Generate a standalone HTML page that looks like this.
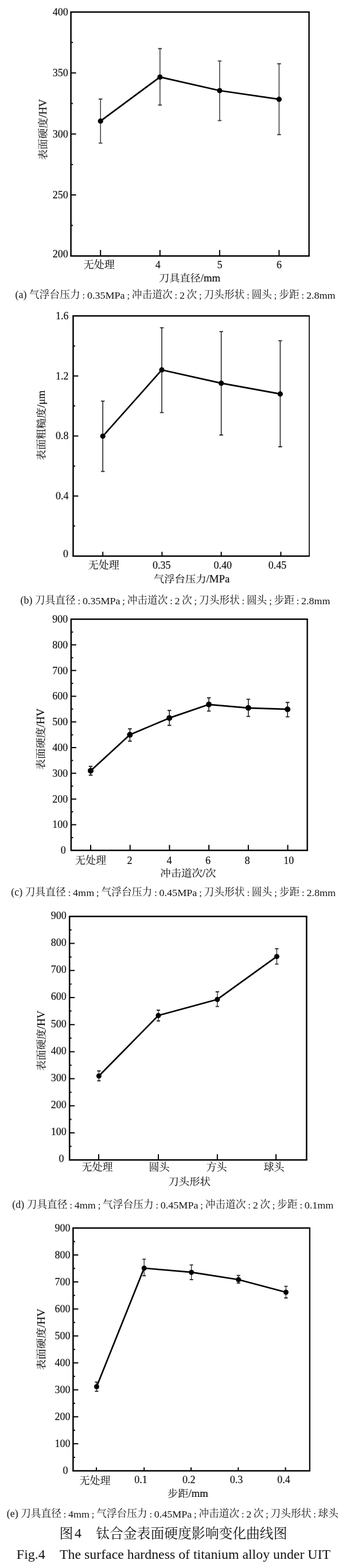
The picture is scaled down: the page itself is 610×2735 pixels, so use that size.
<!DOCTYPE html>
<html><head><meta charset="utf-8"><title>Fig.4</title>
<style>
html,body{margin:0;padding:0;background:#fff;}
body{width:610px;height:2735px;overflow:hidden;}
svg{display:block;}
text{font-family:"Liberation Serif", "Noto Serif CJK SC", serif;fill:#111;stroke:#111;stroke-width:0.1px;}
.l{font-family:"Liberation Serif",serif;stroke-width:0.2px;}
.cap{stroke-width:0px;}
</style></head>
<body>
<svg width="610" height="2735" viewBox="0 0 610 2735">
<rect width="610" height="2735" fill="#fff"/>
<g id="chart-a">
<path d="M123.6 447.8V19.7M122.3 20.9H539.8M122.3 446.5H539.8" fill="none" stroke="#000" stroke-width="2.5"/>
<path d="M538.6 20.9V446.5" fill="none" stroke="#000" stroke-width="2.4"/>
<path d="M123.6 393.3h3.5 M123.6 340.1h9 M123.6 286.9h3.5 M123.6 233.7h9 M123.6 180.5h3.5 M123.6 127.3h9 M123.6 74.1h3.5 M175.2 446.5v-10.5 M278.8 446.5v-10.5 M382.8 446.5v-10.5 M486.4 446.5v-10.5" stroke="#000" stroke-width="2" fill="none"/>
<text class="l" x="118.8" y="449.44" text-anchor="end" font-size="18">200</text>
<text class="l" x="118.8" y="346.04" text-anchor="end" font-size="18">250</text>
<text class="l" x="118.8" y="239.64" text-anchor="end" font-size="18">300</text>
<text class="l" x="118.8" y="133.24" text-anchor="end" font-size="18">350</text>
<text class="l" x="118.8" y="26.84" text-anchor="end" font-size="18">400</text>
<text x="172.7" y="468.3" text-anchor="middle" font-size="18">无处理</text>
<text class="l" x="275.2" y="468.3" text-anchor="middle" font-size="18">4</text>
<text class="l" x="382.9" y="468.3" text-anchor="middle" font-size="18">5</text>
<text class="l" x="486.6" y="468.3" text-anchor="middle" font-size="18">6</text>
<text x="277" y="491.08" font-size="18" textLength="107" lengthAdjust="spacingAndGlyphs"><tspan font-size="17.5">刀具直径</tspan><tspan class="l" font-size="18">/mm</tspan></text>
<text transform="translate(80.58 279.1) rotate(-90)" x="0" y="0" font-size="18" textLength="106.4" lengthAdjust="spacingAndGlyphs"><tspan font-size="17.5">表面硬度</tspan><tspan class="l" font-size="18">/HV</tspan></text>
<text class="l cap" x="26.6" y="520" font-size="18.5" textLength="20" lengthAdjust="spacingAndGlyphs">(a)</text>
<text class="cap" x="51.11" y="520.41" font-size="17.8" textLength="88.64" lengthAdjust="spacingAndGlyphs">气浮台压力</text>
<text class="l cap" x="145.87" y="521" font-size="16.2" text-anchor="middle">:</text>
<text class="l cap" x="151.99" y="521" font-size="16.2" textLength="65.58" lengthAdjust="spacingAndGlyphs">0.35MPa</text>
<text class="l cap" x="223.7" y="521" font-size="16.2" text-anchor="middle">;</text>
<text class="cap" x="229.82" y="520.41" font-size="17.8" textLength="70.91" lengthAdjust="spacingAndGlyphs">冲击道次</text>
<text class="l cap" x="306.85" y="521" font-size="16.2" text-anchor="middle">:</text>
<text class="l cap" x="312.97" y="521" font-size="16.2" textLength="9.01" lengthAdjust="spacingAndGlyphs">2</text>
<text class="cap" x="325.41" y="520.41" font-size="17.8" textLength="17.73" lengthAdjust="spacingAndGlyphs">次</text>
<text class="l cap" x="349.26" y="521" font-size="16.2" text-anchor="middle">;</text>
<text class="cap" x="355.38" y="520.41" font-size="17.8" textLength="70.91" lengthAdjust="spacingAndGlyphs">刀头形状</text>
<text class="l cap" x="432.42" y="521" font-size="16.2" text-anchor="middle">:</text>
<text class="cap" x="438.54" y="520.41" font-size="17.8" textLength="35.46" lengthAdjust="spacingAndGlyphs">圆头</text>
<text class="l cap" x="480.12" y="521" font-size="16.2" text-anchor="middle">;</text>
<text class="cap" x="486.24" y="520.41" font-size="17.8" textLength="35.46" lengthAdjust="spacingAndGlyphs">步距</text>
<text class="l cap" x="527.82" y="521" font-size="16.2" text-anchor="middle">:</text>
<text class="l cap" x="533.94" y="521" font-size="16.2" textLength="50.56" lengthAdjust="spacingAndGlyphs">2.8mm</text>
<path d="M175.2 172.8V249.6 M278.8 84.8V183.2 M382.8 106.4V210.4 M486.4 111.2V234.8" stroke="#3a3a3a" stroke-width="1.5" fill="none"/>
<path d="M171.95 172.8h6.5M171.95 249.6h6.5 M275.55 84.8h6.5M275.55 183.2h6.5 M379.55 106.4h6.5M379.55 210.4h6.5 M483.15 111.2h6.5M483.15 234.8h6.5" stroke="#3a3a3a" stroke-width="1.9" fill="none"/>
<polyline points="175.2,211.2 278.8,134.4 382.8,158 486.4,173.2" fill="none" stroke="#000" stroke-width="2.7" stroke-linejoin="round"/>
<circle cx="175.2" cy="211.2" r="4.6" fill="#000"/>
<circle cx="278.8" cy="134.4" r="4.6" fill="#000"/>
<circle cx="382.8" cy="158" r="4.6" fill="#000"/>
<circle cx="486.4" cy="173.2" r="4.6" fill="#000"/>
</g>
<g id="chart-b">
<path d="M127.5 971.3V549.8M126.2 551H539.85M126.2 970H539.85" fill="none" stroke="#000" stroke-width="2.5"/>
<path d="M539 551V970" fill="none" stroke="#000" stroke-width="1.7"/>
<path d="M127.5 917.62h3.5 M127.5 865.25h9 M127.5 812.88h3.5 M127.5 760.5h9 M127.5 708.12h3.5 M127.5 655.75h9 M127.5 603.38h3.5 M179.2 970v-7.5 M282.4 970v-7.5 M385.6 970v-7.5 M489.4 970v-7.5" stroke="#000" stroke-width="2" fill="none"/>
<text class="l" x="119" y="971.94" text-anchor="end" font-size="18">0</text>
<text class="l" x="119.5" y="871.19" text-anchor="end" font-size="18">0.4</text>
<text class="l" x="119.5" y="766.44" text-anchor="end" font-size="18">0.8</text>
<text class="l" x="119.5" y="661.69" text-anchor="end" font-size="18">1.2</text>
<text class="l" x="119.5" y="556.94" text-anchor="end" font-size="18">1.6</text>
<text x="180.7" y="992.3" text-anchor="middle" font-size="18">无处理</text>
<text class="l" x="281.7" y="992.3" text-anchor="middle" font-size="18">0.35</text>
<text class="l" x="388.2" y="992.3" text-anchor="middle" font-size="18">0.40</text>
<text class="l" x="483.5" y="992.3" text-anchor="middle" font-size="18">0.45</text>
<text x="268" y="1015.78" font-size="18" textLength="132.3" lengthAdjust="spacingAndGlyphs"><tspan font-size="17.5">气浮台压力</tspan><tspan class="l" font-size="18">/MPa</tspan></text>
<text transform="translate(77.98 803) rotate(-90)" x="0" y="0" font-size="18" textLength="122" lengthAdjust="spacingAndGlyphs"><tspan font-size="17.5">表面粗糙度</tspan><tspan class="l" font-size="18">/μm</tspan></text>
<text class="l cap" x="35.5" y="1052.7" font-size="18.5" textLength="20.97" lengthAdjust="spacingAndGlyphs">(b)</text>
<text class="cap" x="60.97" y="1053.11" font-size="17.8" textLength="70.77" lengthAdjust="spacingAndGlyphs">刀具直径</text>
<text class="l cap" x="137.85" y="1053.7" font-size="16.2" text-anchor="middle">:</text>
<text class="l cap" x="143.96" y="1053.7" font-size="16.2" textLength="65.45" lengthAdjust="spacingAndGlyphs">0.35MPa</text>
<text class="l cap" x="215.52" y="1053.7" font-size="16.2" text-anchor="middle">;</text>
<text class="cap" x="221.63" y="1053.11" font-size="17.8" textLength="70.77" lengthAdjust="spacingAndGlyphs">冲击道次</text>
<text class="l cap" x="298.51" y="1053.7" font-size="16.2" text-anchor="middle">:</text>
<text class="l cap" x="304.62" y="1053.7" font-size="16.2" textLength="8.99" lengthAdjust="spacingAndGlyphs">2</text>
<text class="cap" x="317.03" y="1053.11" font-size="17.8" textLength="17.69" lengthAdjust="spacingAndGlyphs">次</text>
<text class="l cap" x="340.83" y="1053.7" font-size="16.2" text-anchor="middle">;</text>
<text class="cap" x="346.94" y="1053.11" font-size="17.8" textLength="70.77" lengthAdjust="spacingAndGlyphs">刀头形状</text>
<text class="l cap" x="423.82" y="1053.7" font-size="16.2" text-anchor="middle">:</text>
<text class="cap" x="429.93" y="1053.11" font-size="17.8" textLength="35.39" lengthAdjust="spacingAndGlyphs">圆头</text>
<text class="l cap" x="471.43" y="1053.7" font-size="16.2" text-anchor="middle">;</text>
<text class="cap" x="477.53" y="1053.11" font-size="17.8" textLength="35.39" lengthAdjust="spacingAndGlyphs">步距</text>
<text class="l cap" x="519.03" y="1053.7" font-size="16.2" text-anchor="middle">:</text>
<text class="l cap" x="525.14" y="1053.7" font-size="16.2" textLength="50.46" lengthAdjust="spacingAndGlyphs">2.8mm</text>
<path d="M179.2 699.6V822.4 M282 571.6V719.6 M385.6 578.4V758.8 M488.4 594.4V779.2" stroke="#262626" stroke-width="1.6" fill="none"/>
<path d="M175.95 699.6h6.5M175.95 822.4h6.5 M278.75 571.6h6.5M278.75 719.6h6.5 M382.35 578.4h6.5M382.35 758.8h6.5 M485.15 594.4h6.5M485.15 779.2h6.5" stroke="#262626" stroke-width="1.9" fill="none"/>
<polyline points="179.2,760.8 282,645.2 385.6,668.4 488.4,687.2" fill="none" stroke="#000" stroke-width="2.7" stroke-linejoin="round"/>
<circle cx="179.2" cy="760.8" r="4.6" fill="#000"/>
<circle cx="282" cy="645.2" r="4.6" fill="#000"/>
<circle cx="385.6" cy="668.4" r="4.6" fill="#000"/>
<circle cx="488.4" cy="687.2" r="4.6" fill="#000"/>
</g>
<g id="chart-c">
<path d="M123.9 1484.6V1078.8M122.6 1080H536.8M122.6 1483.3H536.8" fill="none" stroke="#000" stroke-width="2.5"/>
<path d="M535.6 1080V1483.3" fill="none" stroke="#000" stroke-width="2.4"/>
<path d="M123.9 1460.89h3.5 M123.9 1438.49h9 M123.9 1416.08h3.5 M123.9 1393.68h9 M123.9 1371.27h3.5 M123.9 1348.87h9 M123.9 1326.46h3.5 M123.9 1304.06h9 M123.9 1281.65h3.5 M123.9 1259.24h9 M123.9 1236.84h3.5 M123.9 1214.43h9 M123.9 1192.03h3.5 M123.9 1169.62h9 M123.9 1147.22h3.5 M123.9 1124.81h9 M123.9 1102.41h3.5 M158 1483.3v-9.5 M226.7 1483.3v-9.5 M295.4 1483.3v-9.5 M364.1 1483.3v-9.5 M432.8 1483.3v-9.5 M501.5 1483.3v-9.5" stroke="#000" stroke-width="2" fill="none"/>
<text class="l" x="114.8" y="1489.24" text-anchor="end" font-size="18">0</text>
<text class="l" x="118.3" y="1444.43" text-anchor="end" font-size="18">100</text>
<text class="l" x="118.3" y="1399.62" text-anchor="end" font-size="18">200</text>
<text class="l" x="118.3" y="1354.81" text-anchor="end" font-size="18">300</text>
<text class="l" x="118.3" y="1310" text-anchor="end" font-size="18">400</text>
<text class="l" x="118.3" y="1265.18" text-anchor="end" font-size="18">500</text>
<text class="l" x="118.3" y="1220.37" text-anchor="end" font-size="18">600</text>
<text class="l" x="118.3" y="1175.56" text-anchor="end" font-size="18">700</text>
<text class="l" x="118.3" y="1130.75" text-anchor="end" font-size="18">800</text>
<text class="l" x="118.3" y="1085.94" text-anchor="end" font-size="18">900</text>
<text x="157.9" y="1507.3" text-anchor="middle" font-size="18">无处理</text>
<text class="l" x="226.1" y="1507.3" text-anchor="middle" font-size="18">2</text>
<text class="l" x="295.1" y="1507.3" text-anchor="middle" font-size="18">4</text>
<text class="l" x="362.6" y="1507.3" text-anchor="middle" font-size="18">6</text>
<text class="l" x="430.9" y="1507.3" text-anchor="middle" font-size="18">8</text>
<text class="l" x="503.3" y="1507.3" text-anchor="middle" font-size="18">10</text>
<text x="279.3" y="1529.48" font-size="18" textLength="97.2" lengthAdjust="spacingAndGlyphs"><tspan font-size="17.5">冲击道次</tspan><tspan class="l" font-size="18">/</tspan><tspan font-size="17.5">次</tspan></text>
<text transform="translate(76.98 1342.6) rotate(-90)" x="0" y="0" font-size="18" textLength="106.8" lengthAdjust="spacingAndGlyphs"><tspan font-size="17.5">表面硬度</tspan><tspan class="l" font-size="18">/HV</tspan></text>
<text class="l cap" x="19.2" y="1561.5" font-size="18.5" textLength="20.04" lengthAdjust="spacingAndGlyphs">(c)</text>
<text class="cap" x="43.76" y="1561.91" font-size="17.8" textLength="71.05" lengthAdjust="spacingAndGlyphs">刀具直径</text>
<text class="l cap" x="120.94" y="1562.5" font-size="16.2" text-anchor="middle">:</text>
<text class="l cap" x="127.08" y="1562.5" font-size="16.2" textLength="37.12" lengthAdjust="spacingAndGlyphs">4mm</text>
<text class="l cap" x="170.33" y="1562.5" font-size="16.2" text-anchor="middle">;</text>
<text class="cap" x="176.46" y="1561.91" font-size="17.8" textLength="88.82" lengthAdjust="spacingAndGlyphs">气浮台压力</text>
<text class="l cap" x="271.41" y="1562.5" font-size="16.2" text-anchor="middle">:</text>
<text class="l cap" x="277.55" y="1562.5" font-size="16.2" textLength="65.71" lengthAdjust="spacingAndGlyphs">0.45MPa</text>
<text class="l cap" x="349.4" y="1562.5" font-size="16.2" text-anchor="middle">;</text>
<text class="cap" x="355.53" y="1561.91" font-size="17.8" textLength="71.05" lengthAdjust="spacingAndGlyphs">刀头形状</text>
<text class="l cap" x="432.72" y="1562.5" font-size="16.2" text-anchor="middle">:</text>
<text class="cap" x="438.85" y="1561.91" font-size="17.8" textLength="35.53" lengthAdjust="spacingAndGlyphs">圆头</text>
<text class="l cap" x="480.51" y="1562.5" font-size="16.2" text-anchor="middle">;</text>
<text class="cap" x="486.64" y="1561.91" font-size="17.8" textLength="35.53" lengthAdjust="spacingAndGlyphs">步距</text>
<text class="l cap" x="528.3" y="1562.5" font-size="16.2" text-anchor="middle">:</text>
<text class="l cap" x="534.44" y="1562.5" font-size="16.2" textLength="50.66" lengthAdjust="spacingAndGlyphs">2.8mm</text>
<path d="M158 1336.8V1352 M226.4 1271.2V1292.8 M295.2 1239.2V1265.2 M364 1217.2V1240.4 M432.8 1219.6V1249.6 M501.2 1225.2V1250.4" stroke="#222" stroke-width="1.6" fill="none"/>
<path d="M154.75 1336.8h6.5M154.75 1352h6.5 M223.15 1271.2h6.5M223.15 1292.8h6.5 M291.95 1239.2h6.5M291.95 1265.2h6.5 M360.75 1217.2h6.5M360.75 1240.4h6.5 M429.55 1219.6h6.5M429.55 1249.6h6.5 M497.95 1225.2h6.5M497.95 1250.4h6.5" stroke="#222" stroke-width="1.9" fill="none"/>
<polyline points="158,1344.4 226.4,1281.6 295.2,1252.4 364,1228.8 432.8,1234.8 501.2,1237.2" fill="none" stroke="#000" stroke-width="2.7" stroke-linejoin="round"/>
<circle cx="158" cy="1344.4" r="5" fill="#000"/>
<circle cx="226.4" cy="1281.6" r="5" fill="#000"/>
<circle cx="295.2" cy="1252.4" r="5" fill="#000"/>
<circle cx="364" cy="1228.8" r="5" fill="#000"/>
<circle cx="432.8" cy="1234.8" r="5" fill="#000"/>
<circle cx="501.2" cy="1237.2" r="5" fill="#000"/>
</g>
<g id="chart-d">
<path d="M121.2 2024.5V1597.2M119.9 1598.4H535.6M119.9 2023.2H535.6" fill="none" stroke="#000" stroke-width="2.5"/>
<path d="M534.3 1598.4V2023.2" fill="none" stroke="#000" stroke-width="2.6"/>
<path d="M121.2 1999.6h3.5 M121.2 1976h9 M121.2 1952.4h3.5 M121.2 1928.8h9 M121.2 1905.2h3.5 M121.2 1881.6h9 M121.2 1858h3.5 M121.2 1834.4h9 M121.2 1810.8h3.5 M121.2 1787.2h9 M121.2 1763.6h3.5 M121.2 1740h9 M121.2 1716.4h3.5 M121.2 1692.8h9 M121.2 1669.2h3.5 M121.2 1645.6h9 M121.2 1622h3.5 M172 2023.2v-10 M276 2023.2v-10 M378.8 2023.2v-10 M481 2023.2v-10" stroke="#000" stroke-width="2" fill="none"/>
<text class="l" x="111.6" y="2026.64" text-anchor="end" font-size="18">0</text>
<text class="l" x="115.8" y="1980.44" text-anchor="end" font-size="18">100</text>
<text class="l" x="115.8" y="1933.24" text-anchor="end" font-size="18">200</text>
<text class="l" x="115.8" y="1886.04" text-anchor="end" font-size="18">300</text>
<text class="l" x="115.8" y="1838.84" text-anchor="end" font-size="18">400</text>
<text class="l" x="115.8" y="1791.64" text-anchor="end" font-size="18">500</text>
<text class="l" x="115.8" y="1744.44" text-anchor="end" font-size="18">600</text>
<text class="l" x="115.8" y="1697.24" text-anchor="end" font-size="18">700</text>
<text class="l" x="115.8" y="1650.04" text-anchor="end" font-size="18">800</text>
<text class="l" x="115.8" y="1602.84" text-anchor="end" font-size="18">900</text>
<text x="169.6" y="2042.3" text-anchor="middle" font-size="18">无处理</text>
<text x="277.4" y="2042.3" text-anchor="middle" font-size="18">圆头</text>
<text x="377.4" y="2042.3" text-anchor="middle" font-size="18">方头</text>
<text x="477.4" y="2042.3" text-anchor="middle" font-size="18">球头</text>
<text x="293.6" y="2067.28" font-size="18" textLength="73.1" lengthAdjust="spacingAndGlyphs"><tspan font-size="17.5">刀头形状</tspan></text>
<text transform="translate(78.33 1867.7) rotate(-90)" x="0" y="0" font-size="18" textLength="105" lengthAdjust="spacingAndGlyphs"><tspan font-size="17.5">表面硬度</tspan><tspan class="l" font-size="18">/HV</tspan></text>
<text class="l cap" x="21.2" y="2106.8" font-size="18.5" textLength="21" lengthAdjust="spacingAndGlyphs">(d)</text>
<text class="cap" x="46.7" y="2107.21" font-size="17.8" textLength="70.86" lengthAdjust="spacingAndGlyphs">刀具直径</text>
<text class="l cap" x="123.68" y="2107.8" font-size="16.2" text-anchor="middle">:</text>
<text class="l cap" x="129.8" y="2107.8" font-size="16.2" textLength="37.02" lengthAdjust="spacingAndGlyphs">4mm</text>
<text class="l cap" x="172.93" y="2107.8" font-size="16.2" text-anchor="middle">;</text>
<text class="cap" x="179.05" y="2107.21" font-size="17.8" textLength="88.58" lengthAdjust="spacingAndGlyphs">气浮台压力</text>
<text class="l cap" x="273.74" y="2107.8" font-size="16.2" text-anchor="middle">:</text>
<text class="l cap" x="279.86" y="2107.8" font-size="16.2" textLength="65.54" lengthAdjust="spacingAndGlyphs">0.45MPa</text>
<text class="l cap" x="351.52" y="2107.8" font-size="16.2" text-anchor="middle">;</text>
<text class="cap" x="357.63" y="2107.21" font-size="17.8" textLength="70.86" lengthAdjust="spacingAndGlyphs">冲击道次</text>
<text class="l cap" x="434.61" y="2107.8" font-size="16.2" text-anchor="middle">:</text>
<text class="l cap" x="440.73" y="2107.8" font-size="16.2" textLength="9" lengthAdjust="spacingAndGlyphs">2</text>
<text class="cap" x="453.16" y="2107.21" font-size="17.8" textLength="17.72" lengthAdjust="spacingAndGlyphs">次</text>
<text class="l cap" x="476.99" y="2107.8" font-size="16.2" text-anchor="middle">;</text>
<text class="cap" x="483.11" y="2107.21" font-size="17.8" textLength="35.43" lengthAdjust="spacingAndGlyphs">步距</text>
<text class="l cap" x="524.66" y="2107.8" font-size="16.2" text-anchor="middle">:</text>
<text class="l cap" x="530.77" y="2107.8" font-size="16.2" textLength="50.53" lengthAdjust="spacingAndGlyphs">0.1mm</text>
<path d="M172.4 1868V1885.2 M276 1762V1780.8 M378.8 1730V1755.6 M482.4 1654.8V1681.6" stroke="#2a2a2a" stroke-width="1.3" fill="none"/>
<path d="M169.4 1868h6M169.4 1885.2h6 M273 1762h6M273 1780.8h6 M375.8 1730h6M375.8 1755.6h6 M479.4 1654.8h6M479.4 1681.6h6" stroke="#2a2a2a" stroke-width="1.9" fill="none"/>
<polyline points="172.4,1876.8 276,1771.2 378.8,1743.2 482.4,1668.4" fill="none" stroke="#000" stroke-width="2.7" stroke-linejoin="round"/>
<circle cx="172.4" cy="1876.8" r="4.5" fill="#000"/>
<circle cx="276" cy="1771.2" r="4.5" fill="#000"/>
<circle cx="378.8" cy="1743.2" r="4.5" fill="#000"/>
<circle cx="482.4" cy="1668.4" r="4.5" fill="#000"/>
</g>
<g id="chart-e">
<path d="M127.4 2566.7V2140.8M126.1 2142H540.9M126.1 2565.4H540.9" fill="none" stroke="#000" stroke-width="2.5"/>
<path d="M539.8 2142V2565.4" fill="none" stroke="#000" stroke-width="2.2"/>
<path d="M127.4 2541.88h3.5 M127.4 2518.36h9 M127.4 2494.83h3.5 M127.4 2471.31h9 M127.4 2447.79h3.5 M127.4 2424.27h9 M127.4 2400.74h3.5 M127.4 2377.22h9 M127.4 2353.7h3.5 M127.4 2330.18h9 M127.4 2306.66h3.5 M127.4 2283.13h9 M127.4 2259.61h3.5 M127.4 2236.09h9 M127.4 2212.57h3.5 M127.4 2189.04h9 M127.4 2165.52h3.5 M168 2565.4v-6 M251.2 2565.4v-6 M333 2565.4v-6 M415.3 2565.4v-6 M497.6 2565.4v-6" stroke="#000" stroke-width="2" fill="none"/>
<text class="l" x="118.4" y="2571.34" text-anchor="end" font-size="18">0</text>
<text class="l" x="122.6" y="2524.3" text-anchor="end" font-size="18">100</text>
<text class="l" x="122.6" y="2477.25" text-anchor="end" font-size="18">200</text>
<text class="l" x="122.6" y="2430.21" text-anchor="end" font-size="18">300</text>
<text class="l" x="122.6" y="2383.16" text-anchor="end" font-size="18">400</text>
<text class="l" x="122.6" y="2336.12" text-anchor="end" font-size="18">500</text>
<text class="l" x="122.6" y="2289.07" text-anchor="end" font-size="18">600</text>
<text class="l" x="122.6" y="2242.03" text-anchor="end" font-size="18">700</text>
<text class="l" x="122.6" y="2194.98" text-anchor="end" font-size="18">800</text>
<text class="l" x="122.6" y="2147.94" text-anchor="end" font-size="18">900</text>
<text x="165.4" y="2589" text-anchor="middle" font-size="18">无处理</text>
<text class="l" x="245.4" y="2587" text-anchor="middle" font-size="18">0.1</text>
<text class="l" x="329.2" y="2587" text-anchor="middle" font-size="18">0.2</text>
<text class="l" x="411.9" y="2587" text-anchor="middle" font-size="18">0.3</text>
<text class="l" x="494.5" y="2587" text-anchor="middle" font-size="18">0.4</text>
<text x="292" y="2611.18" font-size="18" textLength="70.8" lengthAdjust="spacingAndGlyphs"><tspan font-size="17.5">步距</tspan><tspan class="l" font-size="18">/mm</tspan></text>
<text transform="translate(78.13 2389.8) rotate(-90)" x="0" y="0" font-size="18" textLength="107.1" lengthAdjust="spacingAndGlyphs"><tspan font-size="17.5">表面硬度</tspan><tspan class="l" font-size="18">/HV</tspan></text>
<text class="l cap" x="11.7" y="2645.8" font-size="18.5" textLength="19.95" lengthAdjust="spacingAndGlyphs">(e)</text>
<text class="cap" x="36.14" y="2646.21" font-size="17.8" textLength="70.71" lengthAdjust="spacingAndGlyphs">刀具直径</text>
<text class="l cap" x="112.95" y="2646.8" font-size="16.2" text-anchor="middle">:</text>
<text class="l cap" x="119.06" y="2646.8" font-size="16.2" textLength="36.94" lengthAdjust="spacingAndGlyphs">4mm</text>
<text class="l cap" x="162.1" y="2646.8" font-size="16.2" text-anchor="middle">;</text>
<text class="cap" x="168.21" y="2646.21" font-size="17.8" textLength="88.39" lengthAdjust="spacingAndGlyphs">气浮台压力</text>
<text class="l cap" x="262.7" y="2646.8" font-size="16.2" text-anchor="middle">:</text>
<text class="l cap" x="268.81" y="2646.8" font-size="16.2" textLength="65.4" lengthAdjust="spacingAndGlyphs">0.45MPa</text>
<text class="l cap" x="340.31" y="2646.8" font-size="16.2" text-anchor="middle">;</text>
<text class="cap" x="346.41" y="2646.21" font-size="17.8" textLength="70.71" lengthAdjust="spacingAndGlyphs">冲击道次</text>
<text class="l cap" x="423.23" y="2646.8" font-size="16.2" text-anchor="middle">:</text>
<text class="l cap" x="429.33" y="2646.8" font-size="16.2" textLength="8.99" lengthAdjust="spacingAndGlyphs">2</text>
<text class="cap" x="441.74" y="2646.21" font-size="17.8" textLength="17.68" lengthAdjust="spacingAndGlyphs">次</text>
<text class="l cap" x="465.52" y="2646.8" font-size="16.2" text-anchor="middle">;</text>
<text class="cap" x="471.62" y="2646.21" font-size="17.8" textLength="70.71" lengthAdjust="spacingAndGlyphs">刀头形状</text>
<text class="l cap" x="548.44" y="2646.8" font-size="16.2" text-anchor="middle">:</text>
<text class="cap" x="554.54" y="2646.21" font-size="17.8" textLength="35.36" lengthAdjust="spacingAndGlyphs">球头</text>
<path d="M168.4 2410.8V2426.8 M251.2 2196.4V2225.2 M333.6 2206.4V2232 M415.6 2224.8V2238 M498.4 2243.6V2264" stroke="#2a2a2a" stroke-width="1.3" fill="none"/>
<path d="M165.4 2410.8h6M165.4 2426.8h6 M248.2 2196.4h6M248.2 2225.2h6 M330.6 2206.4h6M330.6 2232h6 M412.6 2224.8h6M412.6 2238h6 M495.4 2243.6h6M495.4 2264h6" stroke="#2a2a2a" stroke-width="1.9" fill="none"/>
<polyline points="168.4,2418.8 251.2,2212 333.6,2219.2 415.6,2232 498.4,2254" fill="none" stroke="#000" stroke-width="2.7" stroke-linejoin="round"/>
<circle cx="168.4" cy="2418.8" r="4.5" fill="#000"/>
<circle cx="251.2" cy="2212" r="4.5" fill="#000"/>
<circle cx="333.6" cy="2219.2" r="4.5" fill="#000"/>
<circle cx="415.6" cy="2232" r="4.5" fill="#000"/>
<circle cx="498.4" cy="2254" r="4.5" fill="#000"/>
</g>
<text class="cap" x="103.4" y="2683.42" font-size="24">图</text>
<text class="l cap" x="129.9" y="2682.22" font-size="24">4</text>
<text class="cap" x="167.2" y="2683.42" font-size="24" textLength="333.3" lengthAdjust="spacingAndGlyphs">钛合金表面硬度影响变化曲线图</text>
<text class="l cap" x="28.8" y="2719.32" font-size="24">Fig.4</text>
<text class="l cap" x="104" y="2719.32" font-size="24" textLength="472" lengthAdjust="spacingAndGlyphs">The surface hardness of titanium alloy under UIT</text>
</svg>
</body></html>
